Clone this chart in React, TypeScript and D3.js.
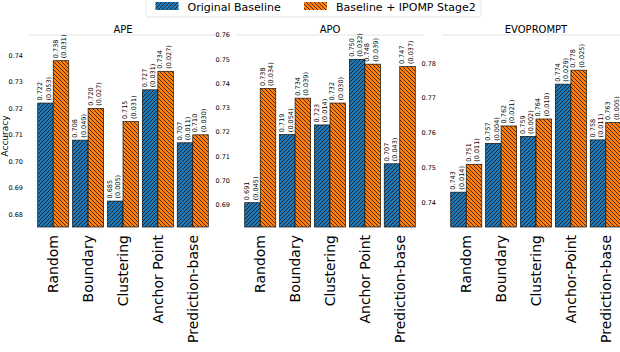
import * as d3 from "d3";

const panelTitles = ["APE", "APO", "EVOPROMPT"];
const methods = ["Random", "Boundary", "Clustering", "Anchor Point", "Prediction-base"];
const methodsEvo = ["Random", "Boundary", "Clustering", "Anchor-Point", "Prediction-base"];
const seriesNames = ["Original Baseline", "Baseline + IPOMP Stage2"];

// mean accuracy and std
const apeBase = [0.722, 0.708, 0.685, 0.727, 0.707];
const apeBaseStd = [0.053, 0.049, 0.005, 0.031, 0.011];
const apeStage2 = [0.738, 0.72, 0.715, 0.734, 0.71];
const apeStage2Std = [0.031, 0.027, 0.031, 0.027, 0.03];

const apoBase = [0.691, 0.719, 0.723, 0.75, 0.707];
const apoBaseStd = [0.045, 0.054, 0.014, 0.032, 0.043];
const apoStage2 = [0.738, 0.734, 0.732, 0.748, 0.747];
const apoStage2Std = [0.034, 0.039, 0.03, 0.039, 0.037];

const evoBase = [0.743, 0.757, 0.759, 0.774, 0.758];
const evoBaseStd = [0.014, 0.004, 0.002, 0.029, 0.011];
const evoStage2 = [0.751, 0.762, 0.764, 0.778, 0.763];
const evoStage2Std = [0.011, 0.021, 0.01, 0.025, 0.005];

const yTicks = [
  [0.68, 0.69, 0.7, 0.71, 0.72, 0.73, 0.74],
  [0.69, 0.7, 0.71, 0.72, 0.73, 0.74, 0.75, 0.76],
  [0.74, 0.75, 0.76, 0.77, 0.78],
];

const W = 620;
const H = 352;
const FONT = "DejaVu Sans, sans-serif";
const BLUE = "#1f77b4";
const ORANGE = "#ff7f0e";

const panelData = [
  { cats: methods, base: apeBase, baseStd: apeBaseStd, s2: apeStage2, s2Std: apeStage2Std, domain: [0.6752, 0.7477] },
  { cats: methods, base: apoBase, baseStd: apoBaseStd, s2: apoStage2, s2Std: apoStage2Std, domain: [0.681, 0.76] },
  { cats: methodsEvo, base: evoBase, baseStd: evoBaseStd, s2: evoStage2, s2Std: evoStage2Std, domain: [0.733, 0.7881] },
];

const lefts = [29, 236, 442];
const pw = 188;
const top = 35;
const bottom = 227;
const fmt = d3.format(".3f");

function Panel({ idx }: { idx: number }) {
  const p = panelData[idx];
  const left = lefts[idx];
  const x = d3.scaleBand<string>().domain(p.cats).range([left, left + pw]).paddingInner(0.11).paddingOuter(0.25);
  const inner = d3.scaleBand<number>().domain([0, 1]).range([0, x.bandwidth()]);
  const y = d3.scaleLinear().domain(p.domain).range([bottom, top]);
  const groups = [
    { vals: p.base, std: p.baseStd, fill: "url(#hatchBlue)" },
    { vals: p.s2, std: p.s2Std, fill: "url(#hatchOrange)" },
  ];
  return (
    <g>
      <line x1={left} x2={left + pw} y1={top} y2={top} stroke="#e3e3e3" strokeWidth={1} />
      <text x={left + pw / 2} y={32.5} textAnchor="middle" fontSize={10} fontFamily={FONT}>
        {panelTitles[idx]}
      </text>
      {yTicks[idx].map((t) => (
        <text key={t} x={left - 6} y={y(t)} dy="0.35em" textAnchor="end" fontSize={6.5} fontFamily={FONT}>
          {d3.format(".2f")(t)}
        </text>
      ))}
      {groups.map((g, gi) =>
        p.cats.map((c, i) => {
          const bx = (x(c) as number) + (inner(gi) as number);
          const bw = inner.bandwidth();
          const by = y(g.vals[i]);
          const cx = bx + bw / 2;
          return (
            <g key={gi + "-" + c}>
              <rect x={bx} y={by} width={bw} height={bottom - by} fill={gi === 0 ? BLUE : ORANGE} />
              <rect x={bx} y={by} width={bw} height={bottom - by} fill={g.fill} stroke="#111" strokeWidth={0.7} />
              <text transform={`translate(${cx},${by - 2.5}) rotate(-90)`} fontSize={6.5} fontFamily={FONT}>
                <tspan x={0} y={-3.3}>{fmt(g.vals[i])}</tspan>
                <tspan x={0} y={5.2}>{"(" + fmt(g.std[i]) + ")"}</tspan>
              </text>
            </g>
          );
        })
      )}
      {p.cats.map((c) => (
        <text
          key={c}
          transform={`translate(${(x(c) as number) + x.bandwidth() / 2},${bottom + 8}) rotate(-90)`}
          textAnchor="end"
          dy="0.35em"
          fontSize={14}
          fontFamily={FONT}
        >
          {c}
        </text>
      ))}
    </g>
  );
}

export default function App() {
  return (
    <svg width={W} height={H} style={{ position: "absolute", left: 0, top: 0, background: "#fff" }}>
      <defs>
        <pattern id="hatchBlue" patternUnits="userSpaceOnUse" width={4} height={4}>
          <path d="M-1,1 l2,-2 M0,4 l4,-4 M3,5 l2,-2" stroke="#111" strokeWidth={0.75} />
        </pattern>
        <pattern id="hatchOrange" patternUnits="userSpaceOnUse" width={4} height={4}>
          <path d="M-1,3 l2,2 M0,0 l4,4 M3,-1 l2,2" stroke="#111" strokeWidth={0.75} />
        </pattern>
      </defs>
      <rect x={0} y={0} width={W} height={H} fill="#fff" />
      {/* legend */}
      <rect x={146} y={-6} width={335} height={23} fill="#fff" stroke="#e0e0e0" strokeWidth={0.8} rx={2} />
      {seriesNames.map((s, i) => {
        const lx = i === 0 ? 155.5 : 304;
        return (
          <g key={s}>
            <rect x={lx} y={2} width={23} height={8} fill={i === 0 ? BLUE : ORANGE} />
            <rect x={lx} y={2} width={23} height={8} fill={i === 0 ? "url(#hatchBlue)" : "url(#hatchOrange)"} />
            <text x={lx + 32} y={10.5} fontSize={11} fontFamily={FONT}>
              {s}
            </text>
          </g>
        );
      })}
      <text transform="translate(7.5,136) rotate(-90)" textAnchor="middle" fontSize={9} fontFamily={FONT}>
        Accuracy
      </text>
      {[0, 1, 2].map((i) => (
        <Panel key={i} idx={i} />
      ))}
    </svg>
  );
}
